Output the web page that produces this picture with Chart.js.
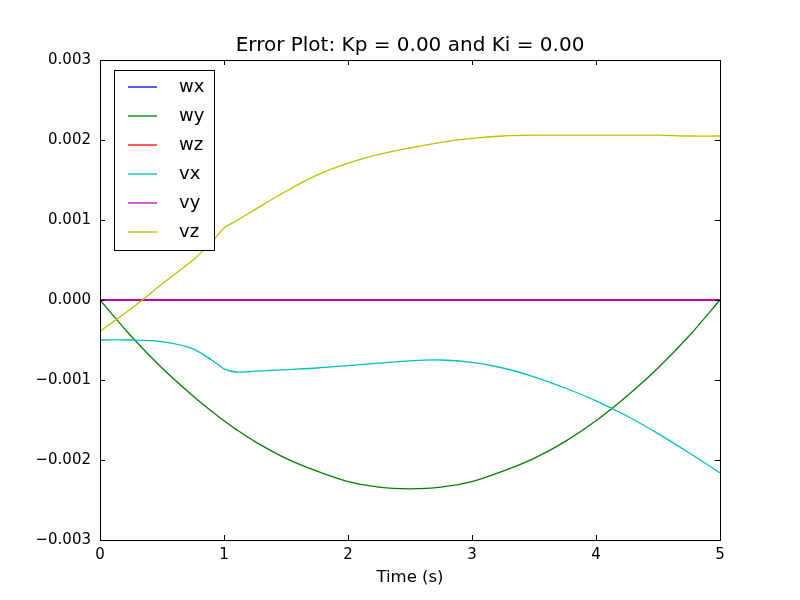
<!DOCTYPE html>
<html>
<head>
<meta charset="utf-8">
<script src="https://cdn.jsdelivr.net/npm/chart.js@4.4.1/dist/chart.umd.min.js"></script>
<style>
  html, body { margin: 0; padding: 0; background: #ffffff; }
  #wrap { width: 800px; height: 600px; }
</style>
</head>
<body>
<div id="wrap"><canvas id="errChart" width="800" height="600"></canvas></div>
<script>
// Time samples (s) and error signals
const time = [0, 0.25, 0.5, 0.75, 0.9, 1.0, 1.1, 1.25, 1.5, 1.75, 2, 2.25, 2.5, 2.75, 3, 3.25, 3.5, 3.75, 4, 4.25, 4.5, 4.75, 5];

const wx = [0, 0, 0, 0, 0, 0, 0, 0, 0, 0, 0, 0, 0, 0, 0, 0, 0, 0, 0, 0, 0, 0, 0];
const wy = [0, -0.00045, -0.00085, -0.00120, -0.00139, -0.00151, -0.00162, -0.00177, -0.00198, -0.00214, -0.00227, -0.00234, -0.00236,
            -0.00234, -0.00227, -0.00214, -0.00198, -0.00177, -0.00151, -0.00120, -0.00085, -0.00045, 0];
const wz = [0, 0, 0, 0, 0, 0, 0, 0, 0, 0, 0, 0, 0, 0, 0, 0, 0, 0, 0, 0, 0, 0, 0];
const vx = [-0.00050, -0.00050, -0.00052, -0.00061, -0.00075, -0.00086, -0.00090, -0.00089, -0.00087, -0.00085, -0.00082, -0.00079, -0.00076,
            -0.00075, -0.00078, -0.00085, -0.00096, -0.00110, -0.00126, -0.00145, -0.00167, -0.00191, -0.00216];
const vy = [0, 0, 0, 0, 0, 0, 0, 0, 0, 0, 0, 0, 0, 0, 0, 0, 0, 0, 0, 0, 0, 0, 0];
const vz = [-0.00039, -0.00011, 0.00020, 0.00050, 0.00072, 0.00090, 0.00099, 0.00113, 0.00136, 0.00156, 0.00171, 0.00182, 0.00190,
            0.00197, 0.00202, 0.00205, 0.00206, 0.00206, 0.00206, 0.00206, 0.00206, 0.00205, 0.00205];

const seriesNames = ['wx', 'wy', 'wz', 'vx', 'vy', 'vz'];
const seriesColors = ['#0000ff', '#008000', '#ff0000', '#00bfbf', '#bf00bf', '#bfbf00'];
const seriesValues = [wx, wy, wz, vx, vy, vz];

const xTicks = [0, 1, 2, 3, 4, 5];
const yTicks = [-0.003, -0.002, -0.001, 0, 0.001, 0.002, 0.003];

const titleText = 'Error Plot: Kp = 0.00 and Ki = 0.00';
const xLabel = 'Time (s)';
const FONT = '"DejaVu Sans", sans-serif';

function fmtY(v) {
    const s = Math.abs(v).toFixed(3);
    return v < -1e-9 ? '\u2212' + s : s;
}

// frame, inward ticks, title and legend box like matplotlib classic
const decorPlugin = {
    id: 'decor',
    afterDraw(chart) {
        const ctx = chart.ctx;
        const a = chart.chartArea;
        const xs = chart.scales.x;
        const ys = chart.scales.y;
        ctx.save();

        ctx.strokeStyle = '#000';
        ctx.lineWidth = 1;
        ctx.beginPath();
        xTicks.forEach(t => {
            const px = Math.round(xs.getPixelForValue(t)) + 0.5;
            ctx.moveTo(px, a.bottom); ctx.lineTo(px, a.bottom - 5);
            ctx.moveTo(px, a.top); ctx.lineTo(px, a.top + 5);
        });
        yTicks.forEach(t => {
            const py = Math.round(ys.getPixelForValue(t)) + 0.5;
            ctx.moveTo(a.left, py); ctx.lineTo(a.left + 5, py);
            ctx.moveTo(a.right, py); ctx.lineTo(a.right - 5, py);
        });
        ctx.stroke();

        ctx.strokeRect(Math.round(a.left) + 0.5, Math.round(a.top) + 0.5,
            Math.round(a.right - a.left), Math.round(a.bottom - a.top));

        // title
        ctx.fillStyle = '#000';
        ctx.font = '20px ' + FONT;
        ctx.textAlign = 'center';
        ctx.textBaseline = 'middle';
        ctx.fillText(titleText, (a.left + a.right) / 2, 46);

        // legend
        const lx = 114.5, ly = 70.5, lw = 100, lh = 180;
        ctx.fillStyle = '#fff';
        ctx.fillRect(lx, ly, lw, lh);
        ctx.strokeStyle = '#000';
        ctx.strokeRect(lx, ly, lw, lh);
        ctx.font = '18px ' + FONT;
        ctx.textAlign = 'left';
        chart.data.datasets.forEach((ds, i) => {
            const cy = 87 + i * 29;
            ctx.strokeStyle = ds.borderColor;
            ctx.lineWidth = 1.3;
            ctx.beginPath();
            ctx.moveTo(128, cy); ctx.lineTo(157, cy);
            ctx.stroke();
            ctx.fillStyle = '#000';
            ctx.fillText(ds.label, 179, cy);
        });
        ctx.restore();
    }
};

document.addEventListener('DOMContentLoaded', () => {
    const ctx = document.getElementById('errChart').getContext('2d');

    const datasets = seriesNames.map((name, i) => ({
        label: name,
        data: time.map((t, k) => ({ x: t, y: seriesValues[i][k] })),
        borderColor: seriesColors[i],
        backgroundColor: seriesColors[i],
        borderWidth: 1.3,
        pointRadius: 0,
        fill: false,
        tension: 0.3,
        order: seriesNames.length - i
    }));

    new Chart(ctx, {
        type: 'line',
        data: { datasets },
        options: {
            responsive: false,
            animation: false,
            devicePixelRatio: 1,
            layout: { padding: { top: 60, right: 80, left: 0, bottom: 0 } },
            plugins: {
                legend: { display: false },
                tooltip: { enabled: false },
                title: { display: false }
            },
            scales: {
                x: {
                    type: 'linear',
                    min: 0,
                    max: 5,
                    afterBuildTicks: s => { s.ticks = xTicks.map(v => ({ value: v })); },
                    afterFit: s => { s.height = 60; },
                    grid: { display: false, drawTicks: false },
                    border: { display: false },
                    ticks: {
                        padding: 6,
                        maxRotation: 0,
                        color: '#000',
                        font: { family: FONT, size: 15 },
                        callback: v => String(v)
                    },
                    title: {
                        display: true,
                        text: xLabel,
                        color: '#000',
                        font: { family: FONT, size: 16.5 },
                        padding: { top: 0, bottom: 12 }
                    }
                },
                y: {
                    type: 'linear',
                    min: -0.003,
                    max: 0.003,
                    afterBuildTicks: s => { s.ticks = yTicks.map(v => ({ value: v })); },
                    afterFit: s => { s.width = 100; },
                    grid: { display: false, drawTicks: false },
                    border: { display: false },
                    ticks: {
                        padding: 9,
                        color: '#000',
                        font: { family: FONT, size: 15 },
                        callback: v => fmtY(v)
                    }
                }
            }
        },
        plugins: [decorPlugin]
    });
});
</script>
</body>
</html>
